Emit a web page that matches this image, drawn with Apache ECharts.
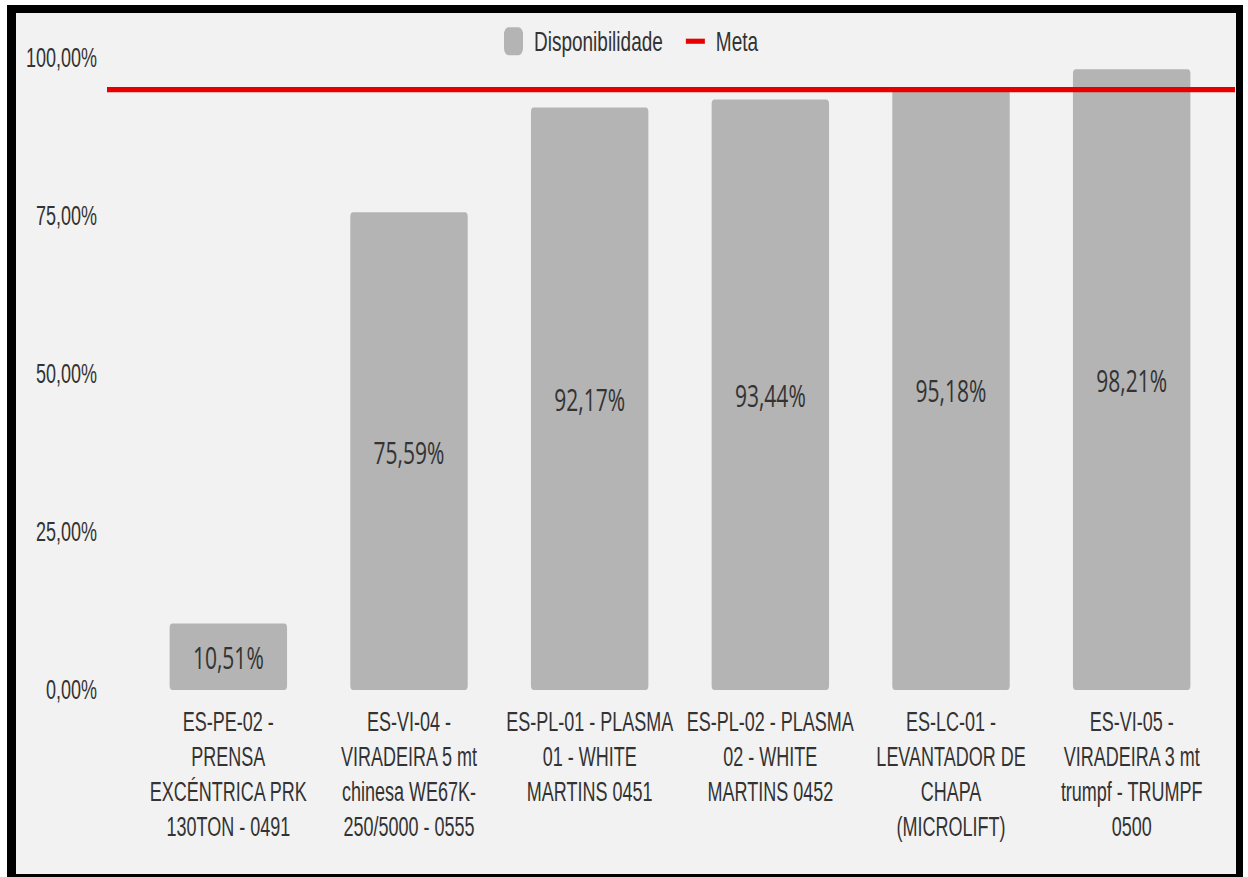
<!DOCTYPE html>
<html>
<head>
<meta charset="utf-8">
<script src="https://cdn.jsdelivr.net/npm/echarts@6/dist/echarts.min.js"></script>
<style>
  html, body { margin: 0; padding: 0; width: 1248px; height: 877px; overflow: hidden; background: #ffffff; }
  #frame {
    position: absolute; left: 7px; top: 5px; width: 1236px; height: 877px;
    box-sizing: border-box; border-style: solid; border-color: #000;
    border-width: 8px 7px 8px 9px; background: #f2f2f2;
  }
  /* chart is laid out at a reduced height and stretched vertically */
  #chart {
    position: absolute; left: 0; top: 0; width: 1248px; height: 585px;
    transform: scaleY(1.4991); transform-origin: 0 0;
  }
</style>
</head>
<body>
<div id="frame"></div>
<div id="chart"></div>
<script>
// Equipment (category axis labels)
const categories = [
  'ES-PE-02 -\nPRENSA\nEXCÉNTRICA PRK\n130TON - 0491',
  'ES-VI-04 -\nVIRADEIRA 5 mt\nchinesa WE67K-\n250/5000 - 0555',
  'ES-PL-01 - PLASMA\n01 - WHITE\nMARTINS 0451',
  'ES-PL-02 - PLASMA\n02 - WHITE\nMARTINS 0452',
  'ES-LC-01 -\nLEVANTADOR DE\nCHAPA\n(MICROLIFT)',
  'ES-VI-05 -\nVIRADEIRA 3 mt\ntrumpf - TRUMPF\n0500'
];
// Availability per equipment, in percent
const disponibilidade = [10.51, 75.59, 92.17, 93.44, 95.18, 98.21];
// Target availability, in percent
const meta = 95;
// Value axis ticks
const yTicks = { min: 0, max: 100, interval: 25 };

const fmtPct = v => v.toFixed(2).replace('.', ',') + '%';
const labelFont = 'Liberation Sans, Arial, sans-serif';
const metaColor = '#e60000';

const chart = echarts.init(document.getElementById('chart'), null, { renderer: 'svg' });
chart.setOption({
  backgroundColor: 'transparent',
  animation: false,
  legend: {
    left: 504, top: 18, padding: 0,
    itemWidth: 19, itemHeight: 18.7, itemGap: 23,
    textStyle: { fontFamily: labelFont, fontSize: 19, color: '#333', padding: [0, 0, 0, 6] },
    data: [
      { name: 'Disponibilidade', icon: 'roundRect' },
      {
        name: 'Meta', icon: 'path://M0,0L19,0L19,3.4L0,3.4Z', symbolKeepAspect: true,
        itemStyle: { color: metaColor }
      }
    ]
  },
  grid: [
    { left: 138, right: 26, top: 38.7, bottom: 124.7 },
    { left: 107, right: 13, top: 38.7, bottom: 124.7 }
  ],
  xAxis: [
    {
      type: 'category', gridIndex: 0, data: categories,
      axisLine: { show: false }, axisTick: { show: false },
      axisLabel: {
        interval: 0, margin: 9.5, fontFamily: labelFont, fontSize: 18,
        lineHeight: 23.3, color: '#333', align: 'center'
      }
    },
    { type: 'value', gridIndex: 1, min: 0, max: 1, show: false }
  ],
  yAxis: [
    {
      type: 'value', gridIndex: 0, min: yTicks.min, max: yTicks.max, interval: yTicks.interval,
      axisLine: { show: false }, axisTick: { show: false }, splitLine: { show: false },
      axisLabel: { margin: 41, fontFamily: labelFont, fontSize: 18, color: '#333', formatter: fmtPct }
    },
    { type: 'value', gridIndex: 1, min: yTicks.min, max: yTicks.max, show: false }
  ],
  series: [
    {
      name: 'Disponibilidade', type: 'bar', xAxisIndex: 0, yAxisIndex: 0,
      data: disponibilidade, barWidth: '65%',
      itemStyle: { color: '#b4b4b4', borderRadius: 3 },
      label: {
        show: true, position: 'inside', color: '#333',
        fontFamily: 'Open Sans, DejaVu Sans, sans-serif', fontSize: 21,
        formatter: p => fmtPct(p.value)
      }
    },
    {
      name: 'Meta', type: 'line', xAxisIndex: 1, yAxisIndex: 1,
      data: [[0, meta], [1, meta]], symbol: 'none', symbolKeepAspect: true, silent: true,
      lineStyle: { color: metaColor, width: 3.5 },
      itemStyle: { color: metaColor }, z: 5
    }
  ]
});
</script>
</body>
</html>
